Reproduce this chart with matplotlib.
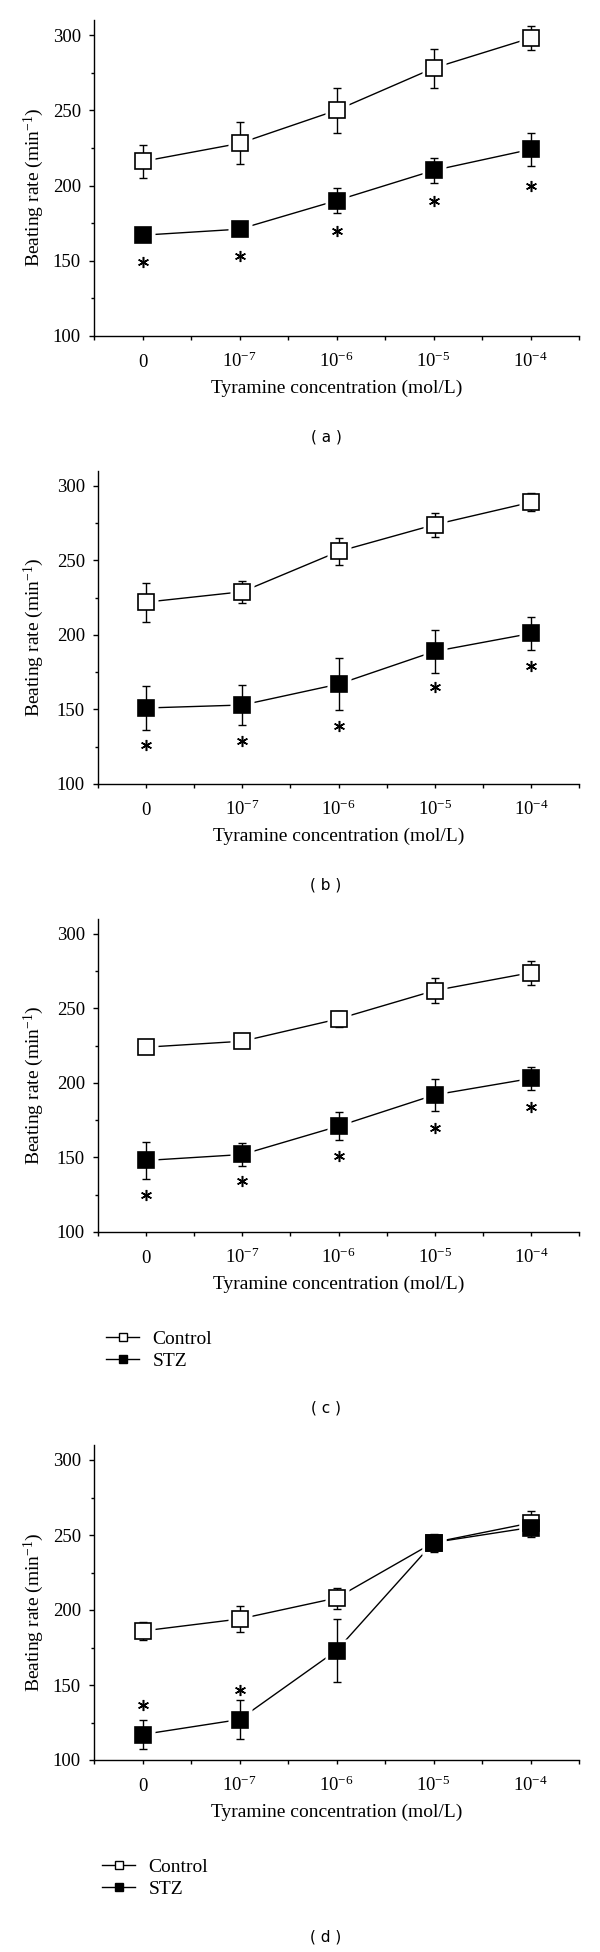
import numpy as np
import matplotlib
matplotlib.use('Agg')
import matplotlib.pyplot as plt
from matplotlib.lines import Line2D

plt.rcParams['font.family'] = ['Liberation Serif', 'DejaVu Serif']
plt.rcParams['mathtext.fontset'] = 'custom'
plt.rcParams['mathtext.rm'] = 'Liberation Serif'
plt.rcParams['mathtext.it'] = 'Liberation Serif:italic'

# tyramine concentrations (categorical positions)
conc_labels = ['0', r'$10^{-7}$', r'$10^{-6}$', r'$10^{-5}$', r'$10^{-4}$']

# panel a
ctrl_a = [216, 228, 250, 278, 298]
ctrl_a_err = [11, 14, 15, 13, 8]
stz_a = [167, 171, 190, 210, 224]
stz_a_err = [3, 3, 8.5, 8.5, 11]
star_a = [149, 153, 170, 190, 200]

# panel b
ctrl_b = [222, 229, 256, 274, 289]
ctrl_b_err = [13, 7.5, 9, 8, 6]
stz_b = [151, 153, 167, 189, 201]
stz_b_err = [15, 13.5, 17.5, 14.5, 11]
star_b = [126, 129, 139, 165, 179]

# panel c
ctrl_c = [224, 228, 243, 262, 274]
ctrl_c_err = [2, 2, 5.5, 8.5, 8]
stz_c = [148, 152, 171, 192, 203]
stz_c_err = [12.5, 8, 9.5, 10.5, 8]
star_c = [125, 134, 151, 170, 184]

# panel d
ctrl_d = [186, 194, 208, 245, 258]
ctrl_d_err = [6, 8.5, 7, 6, 8]
stz_d = [117, 127, 173, 245, 255]
stz_d_err = [9.5, 13, 21, 5, 6.5]
star_d = [137, 147, None, None, None]

panels = [
    ('( a )', ctrl_a, ctrl_a_err, stz_a, stz_a_err, star_a, False),
    ('( b )', ctrl_b, ctrl_b_err, stz_b, stz_b_err, star_b, False),
    ('( c )', ctrl_c, ctrl_c_err, stz_c, stz_c_err, star_c, True),
    ('( d )', ctrl_d, ctrl_d_err, stz_d, stz_d_err, star_d, True),
]

W, H = 600, 1952
# axes boxes in pixels: left, top, right, bottom
boxes = [(94, 20, 579, 336), (98, 471, 579, 784), (98, 919, 579, 1232), (94, 1445, 579, 1760)]
captions_y = [437, 885, 1408, 1937]

fig = plt.figure(figsize=(6, 19.52), dpi=100)
x = np.arange(len(conc_labels))

for (cap, ctrl, ctrl_err, stz, stz_err, stars, has_leg), (l, t, r, b), cy in zip(panels, boxes, captions_y):
    ax = fig.add_axes([l / W, 1 - b / H, (r - l) / W, (b - t) / H])
    ax.plot(x, ctrl, color='k', lw=1, zorder=1)
    ax.plot(x, stz, color='k', lw=1, zorder=1)
    # white halo so lines stop short of the squares
    ax.plot(x, ctrl, ls='none', marker='s', ms=17, mfc='white', mec='none', zorder=2)
    ax.plot(x, stz, ls='none', marker='s', ms=17, mfc='white', mec='none', zorder=2)
    ax.errorbar(x, ctrl, yerr=ctrl_err, fmt='none', ecolor='k', elinewidth=1, capsize=3, capthick=1, zorder=3)
    ax.errorbar(x, stz, yerr=stz_err, fmt='none', ecolor='k', elinewidth=1, capsize=3, capthick=1, zorder=3)
    ax.plot(x, ctrl, ls='none', marker='s', ms=11, mfc='white', mec='k', mew=1.2, zorder=4)
    ax.plot(x, stz, ls='none', marker='s', ms=11, mfc='black', mec='k', mew=1.2, zorder=5)

    sx = [xi for xi, s in zip(x, stars) if s is not None]
    sy = [s for s in stars if s is not None]
    ax.plot(sx, sy, ls='none', marker=(6, 2, 0), ms=8, mew=1.1, color='k', zorder=5)

    ax.set_xlim(-0.5, 4.5)
    ax.set_ylim(100, 310)
    ax.set_xticks(x)
    ax.set_xticklabels(conc_labels)
    ax.set_xticks(np.arange(-0.5, 4.6, 1), minor=True)
    ax.set_yticks([100, 150, 200, 250, 300])
    ax.set_yticks([125, 175, 225, 275], minor=True)
    ax.spines['top'].set_visible(False)
    ax.spines['right'].set_visible(False)
    ax.spines['left'].set_linewidth(1)
    ax.spines['bottom'].set_linewidth(1)
    ax.tick_params(axis='both', which='both', direction='out', width=1, labelsize=13.5, color='k')
    ax.tick_params(axis='y', which='major', length=3.5, pad=6)
    ax.tick_params(axis='y', which='minor', length=2)
    ax.tick_params(axis='x', which='both', length=3, pad=19)
    for lbl in ax.get_xticklabels():
        lbl.set_verticalalignment('baseline')

    ax.set_ylabel(r'Beating rate (min$^{-1}$)', fontsize=14)
    ax.yaxis.set_label_coords((46 - l) / (r - l), 0.47)
    ax.set_xlabel('Tyramine concentration (mol/L)', fontsize=14)
    ax.xaxis.set_label_coords(0.5, -44 / (b - t))

    fig.text(326 / W, 1 - cy / H, cap, ha='center', va='center', family='DejaVu Sans', fontsize=11)

    if has_leg:
        handles = [
            Line2D([], [], color='k', lw=1, marker='s', ms=5.5, mfc='white', mec='k', mew=1),
            Line2D([], [], color='k', lw=1, marker='s', ms=5.5, mfc='black', mec='k', mew=1),
        ]
        fig.legend(handles, ['Control', 'STZ'], loc='center left',
                   bbox_to_anchor=((l + 8) / W, 1 - (b + 118) / H), bbox_transform=fig.transFigure,
                   frameon=False, fontsize=14, handlelength=1.7, handletextpad=0.7,
                   labelspacing=0.2, borderpad=0, borderaxespad=0)

plt.savefig('out.png', dpi=100)
